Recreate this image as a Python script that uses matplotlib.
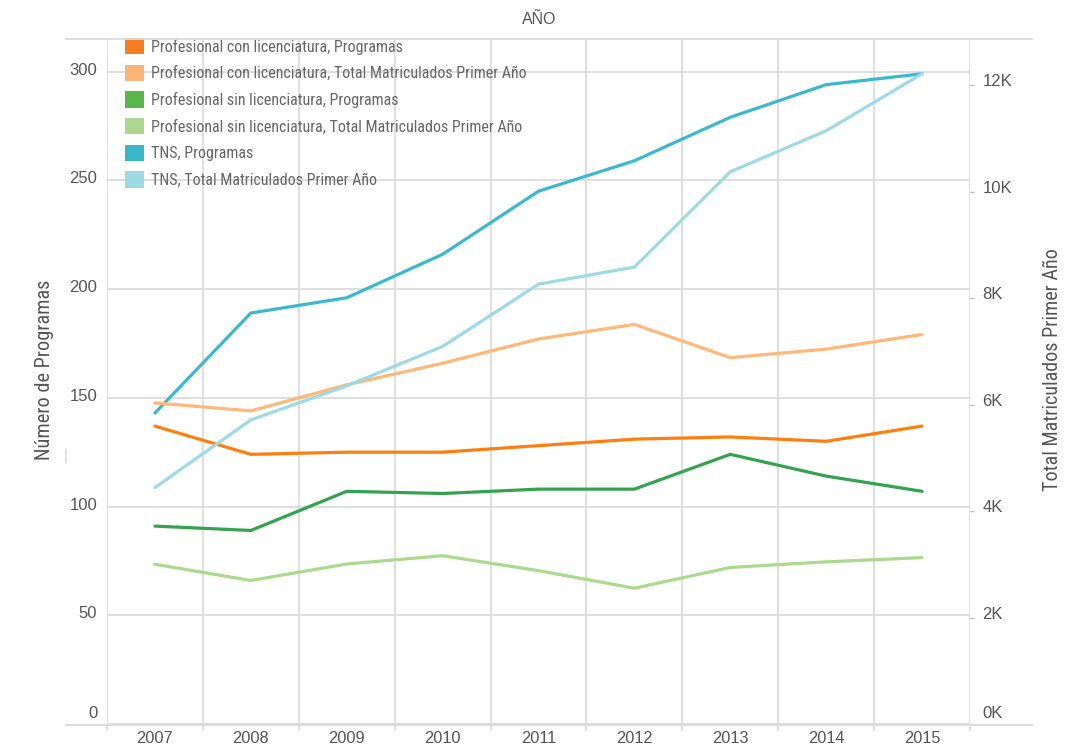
import matplotlib.pyplot as plt
from matplotlib.lines import Line2D
from matplotlib.patches import Patch
from matplotlib.transforms import ScaledTranslation

# data
years = ['2007', '2008', '2009', '2010', '2011', '2012', '2013', '2014', '2015']
con_lic_programas = [137, 124, 125, 125, 128, 131, 132, 130, 137]
con_lic_matriculados = [6030, 5880, 6370, 6775, 7230, 7505, 6880, 7040, 7315]
sin_lic_programas = [91, 89, 107, 106, 108, 108, 124, 114, 107]
sin_lic_matriculados = [3000, 2695, 3005, 3160, 2880, 2550, 2940, 3045, 3125]
tns_programas = [143, 189, 196, 216, 245, 259, 279, 294, 299]
tns_matriculados = [4440, 5710, 6350, 7090, 8260, 8580, 10370, 11140, 12210]

legend_labels = ['Profesional con licenciatura, Programas',
                 'Profesional con licenciatura, Total Matriculados Primer Año',
                 'Profesional sin licenciatura, Programas',
                 'Profesional sin licenciatura, Total Matriculados Primer Año',
                 'TNS, Programas',
                 'TNS, Total Matriculados Primer Año']
line_colors = ['#ff7f0e', '#ffb877', '#34a24f', '#acd98e', '#3bb8cc', '#9ed9e4']
swatch_colors = ['#f57f20', '#fbb677', '#57b748', '#add690', '#3ab6cb', '#9dd9e3']

narrow = ['Roboto Condensed', 'DejaVu Sans']
plt.rcParams['font.family'] = ['Liberation Sans', 'DejaVu Sans']
tick_col = '#555555'
grid_col = '#dcdcdc'

W, H = 1075, 749
fig = plt.figure(figsize=(W / 100, H / 100), dpi=100)
ax = fig.add_axes([107 / W, (H - 724) / H, 863 / W, 685 / H])
ax2 = ax.twinx()

x = list(range(len(years)))
lw = 2.3
ax.plot(x, con_lic_programas, color=line_colors[0], lw=lw, solid_capstyle='round', zorder=3)
ax.plot(x, sin_lic_programas, color=line_colors[2], lw=lw, solid_capstyle='round', zorder=3)
ax.plot(x, tns_programas, color=line_colors[4], lw=lw, solid_capstyle='round', zorder=3)
ax2.plot(x, con_lic_matriculados, color=line_colors[1], lw=lw, solid_capstyle='round')
ax2.plot(x, sin_lic_matriculados, color=line_colors[3], lw=lw, solid_capstyle='round')
ax2.plot(x, tns_matriculados, color=line_colors[5], lw=lw, solid_capstyle='round')

ax.set_xlim(-0.5, len(years) - 0.5)
ax.set_ylim(0, 315)
ax2.set_ylim(0, 12864)

# x axis: boundaries as major ticks (grid), years as minor labels
ax.set_xticks([i - 0.5 for i in range(len(years) + 1)])
ax.set_xticklabels([])
ax.set_xticks(x, minor=True)
ax.set_xticklabels(years, minor=True, fontsize=11.8, color=tick_col)
ax.tick_params(axis='x', which='major', length=5, color=grid_col, width=1.2)
ax.tick_params(axis='x', which='minor', length=0, pad=5)

ax.set_yticks([0, 50, 100, 150, 200, 250, 300])
ax.tick_params(axis='y', length=0, pad=7, labelsize=12, labelcolor=tick_col)
ax2.set_yticks([0, 2000, 4000, 6000, 8000, 10000, 12000])
ax2.set_yticklabels([f'{v // 1000}K' for v in [0, 2000, 4000, 6000, 8000, 10000, 12000]])
ax2.tick_params(axis='y', length=3, width=1, color='#bbbbbb', pad=6,
                labelsize=12, labelcolor=tick_col)

# labels sit a little above their grid lines; the zero labels sit higher
for i, lab in enumerate(ax.get_yticklabels()):
    dy = 0.12 if i == 0 else 0.03
    lab.set_transform(lab.get_transform() + ScaledTranslation(0, dy, fig.dpi_scale_trans))
for i, lab in enumerate(ax2.get_yticklabels()):
    dy = 0.12 if i == 0 else 0.05
    lab.set_transform(lab.get_transform() + ScaledTranslation(0, dy, fig.dpi_scale_trans))

ax.grid(True, which='major', color=grid_col, lw=1.3)
ax.set_axisbelow(True)
for a in (ax, ax2):
    for s in a.spines.values():
        s.set_visible(False)

# long rules at top and bottom, like the reference
fig.add_artist(Line2D([66 / W, 1032 / W], [(H - 39) / H] * 2, color=grid_col, lw=1.3))
fig.add_artist(Line2D([66 / W, 1032 / W], [(H - 725) / H] * 2, color=grid_col, lw=1.5))
fig.add_artist(Line2D([66 / W] * 2, [(H - 450) / H, (H - 462) / H], color=grid_col, lw=1.2))

fig.text(539 / W, 1 - 20 / H, 'AÑO', ha='center', va='center', fontsize=11.5, color=tick_col)

ax.set_ylabel('Número de Programas', family=narrow, fontsize=14.6, color='#555555')
ax.yaxis.set_label_coords(-0.0614, 0.517)
ax2.set_ylabel('Total Matriculados Primer Año', family=narrow, fontsize=14.5, color='#555555')
ax2.yaxis.set_label_coords(1.0846, 0.517)

handles = [Patch(facecolor=c, edgecolor='none') for c in swatch_colors]
leg = ax2.legend(handles, legend_labels, loc='upper left', bbox_to_anchor=(0.0209, 1.0015),
                 frameon=False, borderaxespad=0, borderpad=0, handlelength=1.2,
                 handleheight=1.2, handletextpad=0.45, labelspacing=0.63,
                 prop={'family': narrow, 'size': 11.5})
for t in leg.get_texts():
    t.set_color('#666666')

fig.savefig('out.png', dpi=100)
